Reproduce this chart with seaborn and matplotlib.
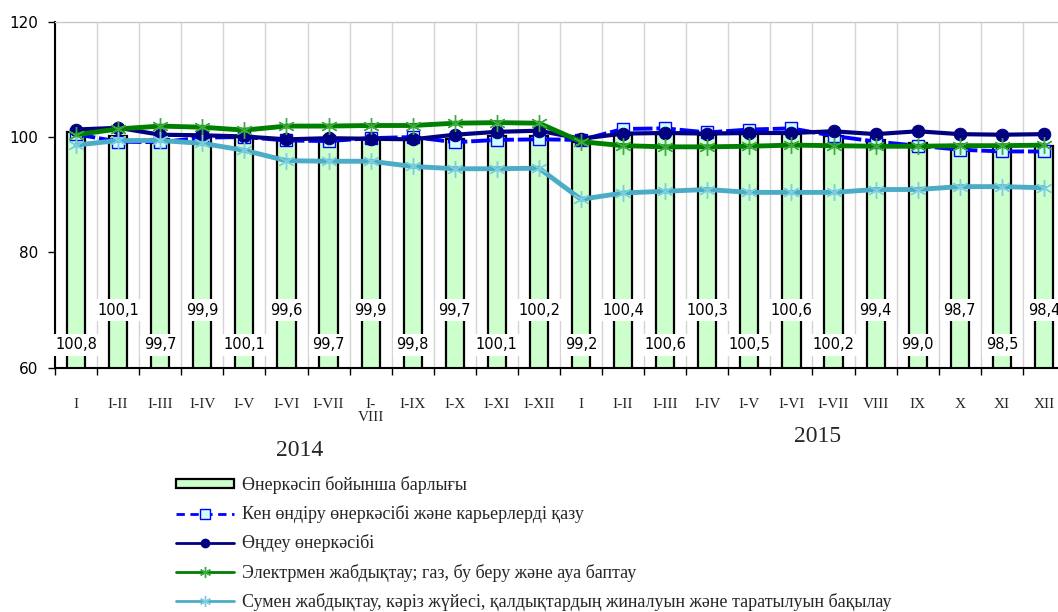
import numpy as np
import pandas as pd
import matplotlib
matplotlib.use("Agg")
import matplotlib.pyplot as plt
import seaborn as sns
from matplotlib.lines import Line2D
from matplotlib.patches import Patch

# ---------------- data ----------------
cats_2014 = ["I", "I-II", "I-III", "I-IV", "I-V", "I-VI", "I-VII", "I-\nVIII",
             "I-IX", "I-X", "I-XI", "I-XII"]
cats_2015 = ["I", "I-II", "I-III", "I-IV", "I-V", "I-VI", "I-VII", "VIII",
             "IX", "X", "XI", "XII"]
years = ["2014", "2015"]

total = [100.8, 100.1, 99.7, 99.9, 100.1, 99.6, 99.7, 99.9, 99.8, 99.7, 100.1, 100.2,
         99.2, 100.4, 100.6, 100.3, 100.5, 100.6, 100.2, 99.4, 99.0, 98.7, 98.5, 98.4]
mining = [100.5, 99.2, 99.1, 99.9, 100.0, 99.4, 99.3, 99.8, 100.0, 99.1, 99.5, 99.6,
          99.5, 101.4, 101.5, 100.8, 101.3, 101.5, 100.2, 99.2, 98.5, 97.8, 97.5, 97.5]
manuf = [101.3, 101.6, 100.4, 100.3, 100.1, 99.6, 99.8, 99.7, 99.6, 100.4, 100.9, 101.1,
         99.7, 100.6, 100.7, 100.6, 100.7, 100.7, 101.0, 100.5, 101.0, 100.5, 100.4, 100.5]
energy = [100.4, 101.4, 101.9, 101.7, 101.2, 101.9, 101.9, 102.0, 102.0, 102.4, 102.5, 102.4,
          99.2, 98.5, 98.3, 98.3, 98.4, 98.6, 98.5, 98.4, 98.4, 98.5, 98.5, 98.6]
water = [98.6, 99.4, 99.4, 98.9, 97.7, 95.9, 95.8, 95.8, 94.9, 94.5, 94.5, 94.6,
         89.2, 90.3, 90.6, 90.9, 90.4, 90.4, 90.4, 90.9, 90.9, 91.4, 91.4, 91.2]

labels_leg = [
    "Өнеркәсіп бойынша барлығы",
    "Кен өндіру өнеркәсібі және карьерлерді қазу",
    "Өңдеу өнеркәсібі",
    "Электрмен жабдықтау; газ, бу беру және ауа баптау",
    "Сумен жабдықтау, кәріз жүйесі, қалдықтардың жиналуын және таратылуын бақылау",
]

# ---------------- style ----------------
sns.set_style("white")
plt.rcParams["font.family"] = ["DejaVu Sans"]
SERIF = ["Liberation Serif", "DejaVu Serif"]

cats = cats_2014 + cats_2015
idx = np.arange(len(cats))
df = pd.DataFrame({"idx": idx, "total": total, "mining": mining, "manuf": manuf,
                   "energy": energy, "water": water})

fig = plt.figure(figsize=(10.58, 6.12), dpi=100)
W, H = 1058, 612
ax = fig.add_axes([55 / W, (H - 367.7) / H, 1010 / W, 346 / H])
ax.set_axisbelow(True)

# bars
sns.barplot(data=df, x="idx", y="total", color="#CCFFCC", saturation=1,
            edgecolor="black", linewidth=1.6, width=0.43, ax=ax, zorder=2)

STAR = (6, 2, 0)
sns.lineplot(data=df, x="idx", y="mining", ax=ax, color="#0000FF", lw=2.8,
             linestyle=(0, (5, 1)), marker="s", markersize=8,
             markerfacecolor="#CCFFFF", markeredgecolor="#0000FF", markeredgewidth=1,
             zorder=3, legend=False)
sns.lineplot(data=df, x="idx", y="manuf", ax=ax, color="#000080", lw=3,
             marker="o", markersize=9, markerfacecolor="#000080",
             markeredgecolor="#000080", zorder=4, legend=False)
sns.lineplot(data=df, x="idx", y="energy", ax=ax, color="#008000", lw=3.5,
             marker=STAR, markersize=12, markeredgecolor="#3DAA3D",
             markeredgewidth=1, zorder=5, legend=False)
sns.lineplot(data=df, x="idx", y="water", ax=ax, color="#4BACC6", lw=3.5,
             marker=STAR, markersize=12, markeredgecolor="#7CCDE0",
             markeredgewidth=1, zorder=6, legend=False)

# bar value labels (alternating heights)
for i, v in enumerate(total):
    ly = 64.0 if i % 2 == 0 else 70.0
    ax.text(i, ly, f"{v:.1f}".replace(".", ","), ha="center", va="center",
            fontsize=10.5, color="black", zorder=7,
            bbox=dict(facecolor="white", edgecolor="none", pad=2.5))

# axes
ax.set_xlim(-0.5, len(cats) - 0.5)
ax.set_ylim(60, 120)
ax.set_yticks([60, 80, 100, 120])
ax.tick_params(axis="y", direction="out", length=5, width=1, labelsize=11,
               pad=7, left=True, colors="black")
ax.set_xticks(idx)
ax.set_xticklabels(cats, fontsize=11, family=SERIF, linespacing=0.95)
ax.tick_params(axis="x", which="major", length=0, pad=22)
ax.set_xticks(np.arange(-0.5, len(cats) - 0.4, 1), minor=True)
ax.tick_params(axis="x", which="minor", direction="out", length=5, width=1,
               bottom=True, colors="black")
ax.grid(False)
ax.grid(which="minor", axis="x", color="#D4D4D4", lw=1)
ax.set_xlabel("")
ax.set_ylabel("")
for s in ["left", "bottom"]:
    ax.spines[s].set_color("black")
    ax.spines[s].set_linewidth(1.5)
ax.spines["top"].set_color("#C8C8C8")
ax.spines["top"].set_linewidth(1)
ax.spines["right"].set_visible(False)

# year labels
fig.text(300 / W, 1 - 450 / H, years[0], ha="center", va="center",
         fontsize=17, family=SERIF)
fig.text(818 / W, 1 - 437 / H, years[1], ha="center", va="center",
         fontsize=17, family=SERIF)

# legend
handles = [
    Patch(facecolor="#CCFFCC", edgecolor="black", linewidth=1.6),
    Line2D([], [], color="#0000FF", lw=2, linestyle=(0, (3, 2)), marker="s",
           markersize=7, markerfacecolor="#CCFFFF", markeredgecolor="#0000FF"),
    Line2D([], [], color="#000080", lw=2, marker="o", markersize=6),
    Line2D([], [], color="#008000", lw=2, marker=STAR, markersize=8,
           markeredgecolor="#3DAA3D"),
    Line2D([], [], color="#4BACC6", lw=2, marker=STAR, markersize=8,
           markeredgecolor="#7CCDE0"),
]
fig.legend(handles, labels_leg, loc="upper left",
           bbox_to_anchor=(176 / W, 1 - 476 / H), frameon=False,
           prop={"family": SERIF, "size": 13}, handlelength=3.2,
           handleheight=0.45, labelspacing=0.62, handletextpad=0.45,
           borderpad=0, borderaxespad=0)

fig.savefig("out.png", dpi=100, facecolor="white")
